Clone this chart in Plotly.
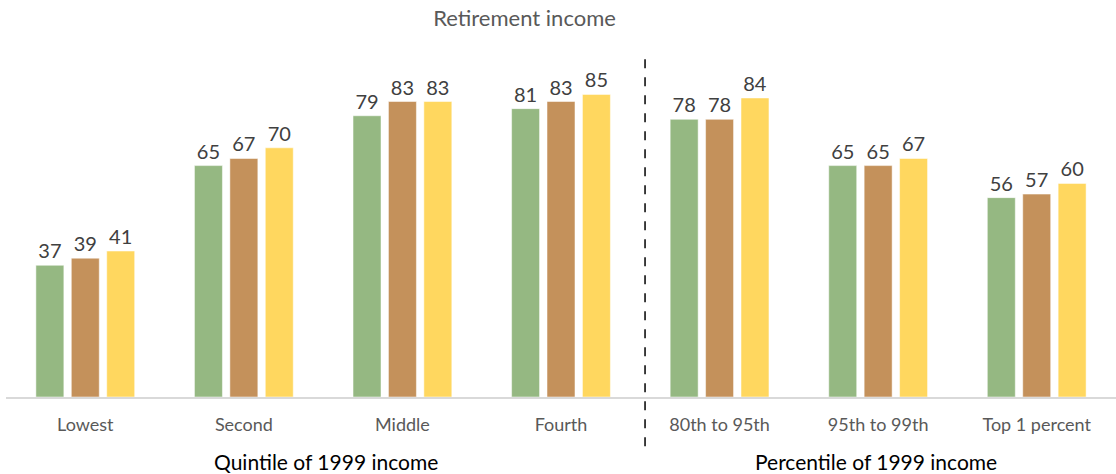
import plotly.graph_objects as go

categories = ["Lowest", "Second", "Middle", "Fourth", "80th to 95th", "95th to 99th", "Top 1 percent"]
series_a = [37, 65, 79, 81, 78, 65, 56]
series_b = [39, 67, 83, 83, 78, 65, 57]
series_c = [41, 70, 83, 85, 84, 67, 60]
colors = ["#95B882", "#C4915B", "#FFD75F"]
title_text = "Retirement income"
group_titles = ["Quintile of 1999 income", "Percentile of 1999 income"]

FONT = "Lato, 'Open Sans', sans-serif"

fig = go.Figure()
for vals, col in zip([series_a, series_b, series_c], colors):
    fig.add_trace(go.Bar(
        x=categories, y=vals, marker=dict(color=col, line=dict(color="rgba(255,255,255,0.5)", width=1)),
        text=[str(v) for v in vals], textposition="outside", cliponaxis=False,
        textfont=dict(size=20, color="#404040", family=FONT),
        showlegend=False, hoverinfo="skip",
    ))

fig.update_layout(
    width=1116, height=474,
    margin=dict(l=6, r=0, t=41, b=77),
    plot_bgcolor="white", paper_bgcolor="white",
    barmode="group", bargap=0.33, bargroupgap=0.21,
    title=dict(text=title_text, x=0.47, xanchor="center", y=0.962, yanchor="middle",
               font=dict(size=22, color="#595959", family=FONT)),
    xaxis=dict(showline=True, linecolor="#D9D9D9", linewidth=2, ticks="", ticklabelstandoff=10,
               tickfont=dict(size=18, color="#595959", family=FONT), showgrid=False),
    yaxis=dict(range=[0, 100], visible=False, showgrid=False, zeroline=False),
)

fig.add_shape(type="line", xref="x", yref="paper", x0=3.53, x1=3.53, y0=-0.138, y1=0.958,
              line=dict(color="black", width=1.5, dash="dash"))

fig.add_annotation(text=group_titles[0], xref="paper", yref="paper", x=(326 - 6) / 1110, y=-0.18,
                   xanchor="center", yanchor="middle", showarrow=False,
                   font=dict(size=21, color="black", family=FONT))
fig.add_annotation(text=group_titles[1], xref="paper", yref="paper", x=(876 - 6) / 1110, y=-0.18,
                   xanchor="center", yanchor="middle", showarrow=False,
                   font=dict(size=21, color="black", family=FONT))

fig.write_html("out.html", config={"displayModeBar": False})
with open("out.html", "r", encoding="utf-8") as f:
    html = f.read()
html = html.replace("<body>", "<body style=\"margin:0;padding:0;\">", 1)
with open("out.html", "w", encoding="utf-8") as f:
    f.write(html)
